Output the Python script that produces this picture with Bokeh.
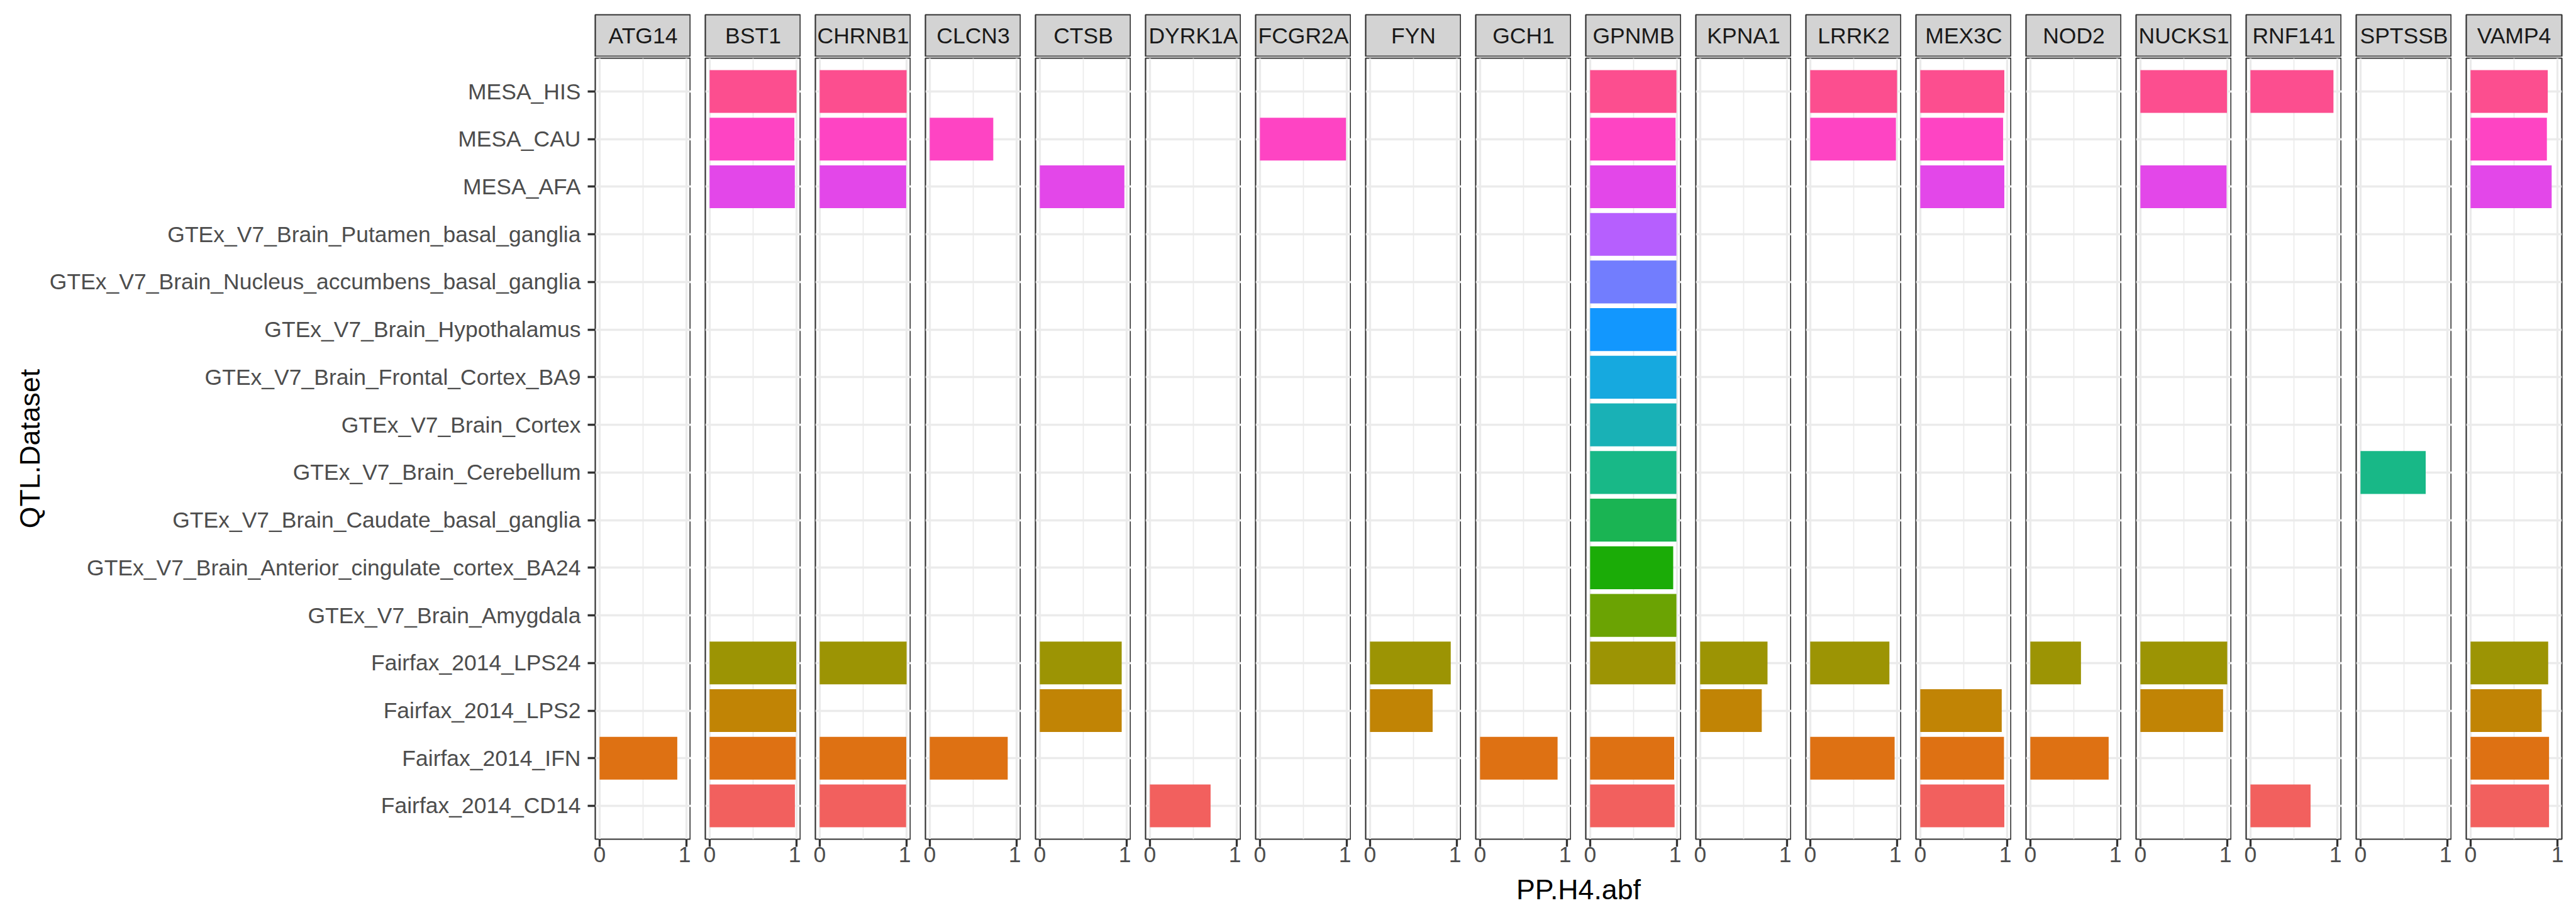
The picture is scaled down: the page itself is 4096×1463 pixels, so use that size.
from bokeh.plotting import figure
from bokeh.models import Range1d, FactorRange, FixedTicker, ColumnDataSource
from bokeh.layouts import row, column
from bokeh.embed import file_html
from bokeh.resources import INLINE
from bokeh.core.properties import value

N = None

genes = ["ATG14", "BST1", "CHRNB1", "CLCN3", "CTSB", "DYRK1A", "FCGR2A", "FYN", "GCH1",
         "GPNMB", "KPNA1", "LRRK2", "MEX3C", "NOD2", "NUCKS1", "RNF141", "SPTSSB", "VAMP4"]

# QTL datasets, top to bottom as shown
datasets = ["MESA_HIS", "MESA_CAU", "MESA_AFA",
            "GTEx_V7_Brain_Putamen_basal_ganglia",
            "GTEx_V7_Brain_Nucleus_accumbens_basal_ganglia",
            "GTEx_V7_Brain_Hypothalamus",
            "GTEx_V7_Brain_Frontal_Cortex_BA9",
            "GTEx_V7_Brain_Cortex",
            "GTEx_V7_Brain_Cerebellum",
            "GTEx_V7_Brain_Caudate_basal_ganglia",
            "GTEx_V7_Brain_Anterior_cingulate_cortex_BA24",
            "GTEx_V7_Brain_Amygdala",
            "Fairfax_2014_LPS24", "Fairfax_2014_LPS2", "Fairfax_2014_IFN", "Fairfax_2014_CD14"]

dataset_colors = ["#FC4E8F", "#FE44C3", "#E347E9", "#B65FFE", "#727DFE", "#1297FE",
                  "#16A9DF", "#19B1B6", "#18B887", "#1AB453", "#1BAC07", "#6BA303",
                  "#9C9404", "#C18405", "#DE7113", "#F2605E"]

# PP.H4.abf per gene, in the dataset order above (None = no bar)
ATG14  = [N, N, N, N, N, N, N, N, N, N, N, N, N, N, 0.893, N]
BST1   = [0.999, 0.974, 0.979, N, N, N, N, N, N, N, N, N, 0.995, 0.995, 0.990, 0.980]
CHRNB1 = [0.999, 0.999, 0.994, N, N, N, N, N, N, N, N, N, 0.999, N, 0.995, 0.993]
CLCN3  = [N, 0.730, N, N, N, N, N, N, N, N, N, N, N, N, 0.896, N]
CTSB   = [N, N, 0.972, N, N, N, N, N, N, N, N, N, 0.941, 0.941, N, N]
DYRK1A = [N, N, N, N, N, N, N, N, N, N, N, N, N, N, N, 0.698]
FCGR2A = [N, 0.989, N, N, N, N, N, N, N, N, N, N, N, N, N, N]
FYN    = [N, N, N, N, N, N, N, N, N, N, N, N, 0.928, 0.720, N, N]
GCH1   = [N, N, N, N, N, N, N, N, N, N, N, N, N, N, 0.891, N]
GPNMB  = [0.992, 0.982, 0.987, 0.992, 0.992, 0.992, 0.992, 0.992, 0.992, 0.992, 0.955, 0.992,
          0.982, N, 0.966, 0.971]
KPNA1  = [N, N, N, N, N, N, N, N, N, N, N, N, 0.774, 0.708, N, N]
LRRK2  = [0.998, 0.985, N, N, N, N, N, N, N, N, N, N, 0.910, N, 0.970, N]
MEX3C  = [0.966, 0.952, 0.966, N, N, N, N, N, N, N, N, N, N, 0.936, 0.962, 0.966]
NOD2   = [N, N, N, N, N, N, N, N, N, N, N, N, 0.582, N, 0.900, N]
NUCKS1 = [0.995, N, 0.990, N, N, N, N, N, N, N, N, N, 0.998, 0.950, N, N]
RNF141 = [0.954, N, N, N, N, N, N, N, N, N, N, N, N, N, N, 0.691]
SPTSSB = [N, N, N, N, N, N, N, N, 0.749, N, N, N, N, N, N, N]
VAMP4  = [0.887, 0.877, 0.932, N, N, N, N, N, N, N, N, N, 0.892, 0.817, 0.902, 0.902]

gene_values = [ATG14, BST1, CHRNB1, CLCN3, CTSB, DYRK1A, FCGR2A, FYN, GCH1,
               GPNMB, KPNA1, LRRK2, MEX3C, NOD2, NUCKS1, RNF141, SPTSSB, VAMP4]

x_ticks = [0, 1]
x_minor = [0.5]

# ---- styling / layout ----
FONT = "Liberation Sans"
TICK_FS = "35.5px"
TITLE_FS = "44.7px"
PANEL_W = 152
PANEL_H = 1242
STRIP_H = 67
LEFT = 946
GAP = 23
RIGHT_PAD = 22
TOP = 23
BOTTOM_AXIS = 56
BORDER = "#333333"
GRID = "#EBEBEB"
XMIN, XMAX = -0.0495, 1.049

y_range = FactorRange(factors=list(reversed(datasets)), range_padding=0.2,
                      range_padding_units="absolute")

cols = []
n = len(genes)
for i, (gene, vals) in enumerate(zip(genes, gene_values)):
    mbl = LEFT if i == 0 else GAP
    mbr = RIGHT_PAD if i == n - 1 else 0

    # strip
    s = figure(frame_width=PANEL_W, frame_height=STRIP_H,
               x_range=Range1d(0, 1), y_range=Range1d(0, 1),
               x_axis_type=None, y_axis_type=None,
               min_border_left=mbl, min_border_right=mbr,
               min_border_top=TOP, min_border_bottom=0,
               background_fill_color="#D3D3D3", border_fill_color="white",
               outline_line_color=BORDER, outline_line_width=2.2,
               output_backend="svg", toolbar_location=None)
    s.text(x=[0.5], y=[0.5], text=[gene], text_align="center", text_baseline="middle",
           text_font=value(FONT), text_font_size=TICK_FS, text_color="#1A1A1A")

    # panel
    ys, xs, cs = [], [], []
    for d, v, c in zip(datasets, vals, dataset_colors):
        if v is not None:
            ys.append(d)
            xs.append(v)
            cs.append(c)
    src = ColumnDataSource(dict(y=ys, x=xs, color=cs))

    p = figure(frame_width=PANEL_W, frame_height=PANEL_H,
               x_range=Range1d(XMIN, XMAX), y_range=y_range,
               min_border_left=mbl, min_border_right=mbr,
               min_border_top=2, min_border_bottom=BOTTOM_AXIS,
               background_fill_color="white", border_fill_color="white",
               outline_line_color=BORDER, outline_line_width=2.2,
               output_backend="svg", toolbar_location=None)
    p.hbar(y="y", left=0, right="x", height=0.9, fill_color="color",
           line_color=None, source=src)

    ticker = FixedTicker(ticks=x_ticks, minor_ticks=x_minor)
    p.xaxis.ticker = ticker
    p.xgrid.ticker = ticker
    p.xgrid.grid_line_color = GRID
    p.xgrid.grid_line_width = 3.3
    p.xgrid.minor_grid_line_color = GRID
    p.xgrid.minor_grid_line_width = 1.7
    p.ygrid.grid_line_color = GRID
    p.ygrid.grid_line_width = 3.3

    p.xaxis.axis_line_color = None
    p.xaxis.minor_tick_line_color = None
    p.xaxis.major_tick_in = 0
    p.xaxis.major_tick_out = 12
    p.xaxis.major_tick_line_color = BORDER
    p.xaxis.major_tick_line_width = 3.3
    p.xaxis.major_label_standoff = 0
    p.xaxis.major_label_text_font = FONT
    p.xaxis.major_label_text_font_size = TICK_FS
    p.xaxis.major_label_text_color = "#4D4D4D"

    if i == 0:
        p.yaxis.axis_line_color = None
        p.yaxis.major_tick_in = 0
        p.yaxis.major_tick_out = 12
        p.yaxis.major_tick_line_color = BORDER
        p.yaxis.major_tick_line_width = 3.3
        p.yaxis.major_label_standoff = 11
        p.yaxis.major_label_text_font = FONT
        p.yaxis.major_label_text_font_size = TICK_FS
        p.yaxis.major_label_text_color = "#4D4D4D"
        p.yaxis.axis_label = "QTL.Dataset"
        p.yaxis.axis_label_text_font = FONT
        p.yaxis.axis_label_text_font_size = TITLE_FS
        p.yaxis.axis_label_text_font_style = "normal"
        p.yaxis.axis_label_text_color = "black"
        p.yaxis.axis_label_standoff = 4
    else:
        p.yaxis.visible = False

    cols.append(column(s, p))

# x-axis title centred under the panels
span_w = (n - 1) * (PANEL_W + GAP) + PANEL_W
top_of_title = 23 + STRIP_H + 2 + PANEL_H + BOTTOM_AXIS
title_center = 1414
title_h = 2 * (title_center - top_of_title)
t = figure(frame_width=span_w, frame_height=title_h,
           x_range=Range1d(0, 1), y_range=Range1d(0, 1),
           x_axis_type=None, y_axis_type=None,
           min_border_left=LEFT, min_border_right=RIGHT_PAD,
           min_border_top=0, min_border_bottom=1463 - top_of_title - title_h,
           background_fill_color="white", border_fill_color="white",
           outline_line_color=None, output_backend="svg", toolbar_location=None)
t.text(x=[0.5], y=[0.5], text=["PP.H4.abf"], text_align="center", text_baseline="middle",
       text_font=value(FONT), text_font_size=TITLE_FS, text_color="black")

layout = column(row(*cols), t)

open("out.html", "w").write(file_html(layout, INLINE))
